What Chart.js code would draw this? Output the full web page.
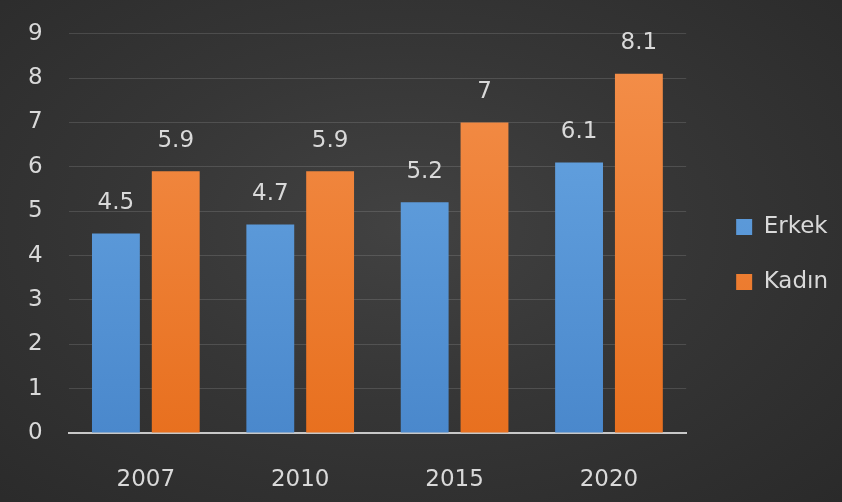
<!DOCTYPE html>
<html>
<head>
<meta charset="utf-8">
<script src="https://cdn.jsdelivr.net/npm/chart.js@4.4.1/dist/chart.umd.min.js"></script>
<style>
  html, body { margin: 0; padding: 0; }
  body {
    width: 842px; height: 502px; overflow: hidden;
    background: radial-gradient(ellipse at 48% 45%, #424242 0%, #363636 45%, #2a2a2a 100%);
  }
  #wrap { width: 842px; height: 502px; }
</style>
</head>
<body>
<div id="wrap"><canvas id="chart"></canvas></div>
<script>
const years = ['2007', '2010', '2015', '2020'];
const erkek = [4.5, 4.7, 5.2, 6.1];
const kadin = [5.9, 5.9, 7, 8.1];
const seriesNames = ['Erkek', 'Kadın'];
const yMax = 9;

const textColor = '#d9d9d9';
const fontFamily = '"DejaVu Sans", "Open Sans", sans-serif';
const fontSize = 23;

function barGradient(ctx, top, bottom) {
    const chart = ctx.chart;
    const area = chart.chartArea;
    if (!area) return top;
    const g = chart.ctx.createLinearGradient(0, area.top, 0, area.bottom);
    g.addColorStop(0, top);
    g.addColorStop(1, bottom);
    return g;
}

// draws the value above each bar
const valueLabels = {
    id: 'valueLabels',
    afterDatasetsDraw(chart) {
        const ctx = chart.ctx;
        ctx.save();
        ctx.fillStyle = textColor;
        ctx.font = fontSize + 'px ' + fontFamily;
        ctx.textAlign = 'center';
        ctx.textBaseline = 'bottom';
        chart.data.datasets.forEach((ds, i) => {
            chart.getDatasetMeta(i).data.forEach((bar, j) => {
                ctx.fillText(String(ds.data[j]), bar.x, bar.y - 19);
            });
        });
        ctx.restore();
    }
};

new Chart(document.getElementById('chart'), {
    type: 'bar',
    data: {
        labels: years,
        datasets: [
            {
                label: seriesNames[0],
                data: erkek,
                backgroundColor: ctx => barGradient(ctx, '#6aa8e4', '#4a88cc'),
                categoryPercentage: 0.775,
                barPercentage: 0.8
            },
            {
                label: seriesNames[1],
                data: kadin,
                backgroundColor: ctx => barGradient(ctx, '#f4904c', '#e8701f'),
                categoryPercentage: 0.775,
                barPercentage: 0.8
            }
        ]
    },
    plugins: [valueLabels],
    options: {
        responsive: true,
        maintainAspectRatio: false,
        animation: false,
        layout: { padding: { top: 14, left: 8, right: 4, bottom: 7 } },
        scales: {
            x: {
                grid: { display: false },
                border: { color: '#c8c8c8', width: 2 },
                ticks: { color: textColor, font: { size: fontSize, family: fontFamily }, padding: 25 },
                afterFit(scale) { scale.height = 62; }
            },
            y: {
                min: 0,
                max: yMax,
                grid: { color: 'rgba(255,255,255,0.13)', lineWidth: 1, drawTicks: true, tickLength: 6, tickColor: 'rgba(0,0,0,0)' },
                border: { display: false },
                ticks: { stepSize: 1, color: textColor, font: { size: fontSize, family: fontFamily }, padding: 20 }
            },
            gap: {
                position: 'right',
                display: true,
                grid: { display: false },
                border: { display: false },
                ticks: { display: false },
                afterFit(scale) { scale.width = 18; }
            }
        },
        plugins: {
            legend: {
                position: 'right',
                labels: {
                    color: textColor,
                    font: { size: fontSize, family: fontFamily },
                    boxWidth: 16,
                    boxHeight: 16,
                    padding: 32
                }
            },
            tooltip: { enabled: false }
        }
    }
});
</script>
</body>
</html>
